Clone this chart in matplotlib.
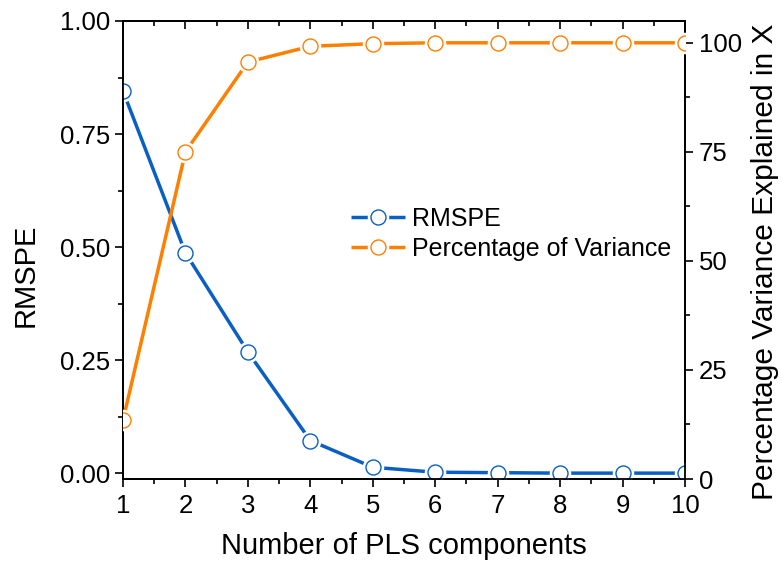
import matplotlib
matplotlib.use("Agg")
import matplotlib.pyplot as plt
from matplotlib.legend_handler import HandlerTuple
from matplotlib.ticker import MultipleLocator

plt.rcParams['font.family'] = ['Liberation Sans', 'DejaVu Sans']

components = [1, 2, 3, 4, 5, 6, 7, 8, 9, 10]
rmspe = [0.845, 0.487, 0.268, 0.072, 0.013, 0.002, 0.001, 0.0, 0.0, 0.0]
variance = [13.5, 75.0, 95.6, 99.2, 99.8, 100.0, 100.0, 100.0, 100.0, 100.0]

blue = '#0a5fc4'
orange = '#ff8000'

fig = plt.figure(figsize=(7.82, 5.66), dpi=100)
ax1 = fig.add_axes([0.1573, 0.1537, 0.7187, 0.8092])
ax2 = ax1.twinx()

def draw(ax, x, y, color):
    l, = ax.plot(x, y, color=color, lw=2.5, solid_capstyle='butt', zorder=2)
    g, = ax.plot(x, y, ls='none', marker='o', ms=15.5, mfc='white', mec='white', mew=0, zorder=3)
    m, = ax.plot(x, y, ls='none', marker='o', ms=10.8, mfc='white', mec=color, mew=1.0, zorder=4)
    return (l, g, m)

h1 = draw(ax1, components, rmspe, blue)
h2 = draw(ax2, components, variance, orange)

ax1.set_xlim(1, 10)
ax1.set_ylim(-0.013, 1.0)
ax2.set_ylim(0, 105)

ax1.xaxis.set_major_locator(MultipleLocator(1))
ax1.xaxis.set_minor_locator(MultipleLocator(0.5))
ax1.yaxis.set_major_locator(MultipleLocator(0.25))
ax1.yaxis.set_minor_locator(MultipleLocator(0.125))
ax2.yaxis.set_major_locator(MultipleLocator(25))
ax2.yaxis.set_minor_locator(MultipleLocator(12.5))
ax1.yaxis.set_major_formatter(plt.FuncFormatter(lambda v, p: f"{v:.2f}"))

TS = 18.5
ax1.tick_params(axis='x', which='both', direction='out', bottom=True, top=False, labelsize=TS, pad=5)
ax1.tick_params(axis='x', which='major', length=6, width=1.2)
ax1.tick_params(axis='x', which='minor', length=3.5, width=1.2)
ax1.tick_params(axis='y', which='major', direction='out', length=6, width=1.2, labelsize=TS, pad=3)
ax1.tick_params(axis='y', which='minor', direction='out', length=3.5, width=1.2)
ax2.tick_params(axis='y', which='major', direction='out', length=6, width=1.2, labelsize=TS, pad=4)
ax2.tick_params(axis='y', which='minor', direction='out', length=3.5, width=1.2)

# top ticks pointing inward, via the twin's x axis
ax2.xaxis.set_visible(True)
ax2.xaxis.set_major_locator(MultipleLocator(1))
ax2.xaxis.set_minor_locator(MultipleLocator(0.5))
ax2.tick_params(axis='x', which='both', direction='in', top=True, bottom=False,
                labeltop=False, labelbottom=False, width=1.2)
ax2.tick_params(axis='x', which='major', length=6)
ax2.tick_params(axis='x', which='minor', length=3.5)

for ax in (ax1, ax2):
    for s in ax.spines.values():
        s.set_linewidth(1.3)

ax1.set_xlabel('Number of PLS components', fontsize=21, labelpad=10)
ax1.set_ylabel('RMSPE', fontsize=21)
ax2.set_ylabel('Percentage Variance Explained in X', fontsize=21.5)
ax1.yaxis.set_label_coords(-0.174, 0.445)
ax1.yaxis.label.set_verticalalignment('center')
ax2.yaxis.set_label_coords(1.142, 0.474)
ax2.yaxis.label.set_verticalalignment('center')

leg = ax2.legend([h1, h2], ['RMSPE', 'Percentage of Variance'],
                 handler_map={tuple: HandlerTuple(ndivide=1, pad=0)},
                 loc='center left', bbox_to_anchor=(0.406, 0.535), frameon=False,
                 fontsize=18, handlelength=2.15, handletextpad=0.28, labelspacing=0.25,
                 numpoints=1, borderaxespad=0, borderpad=0)

fig.savefig('out.png', dpi=100)
